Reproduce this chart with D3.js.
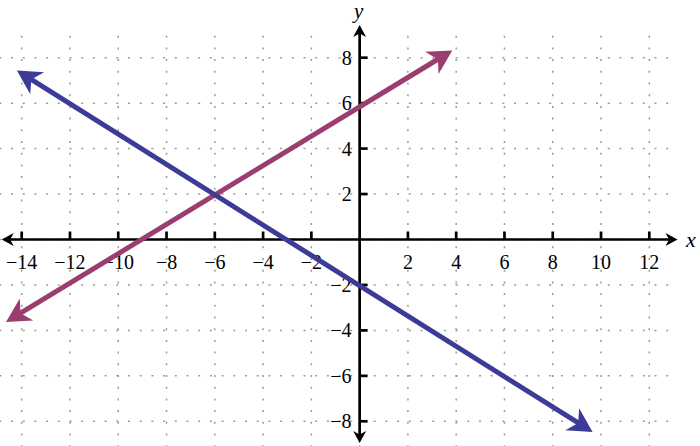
<html>
<head>
<script src="https://cdnjs.cloudflare.com/ajax/libs/d3/7.8.5/d3.min.js"></script>
<style>body{margin:0;background:#fff;}</style>
</head>
<body>
<div id="chartContainer"></div>
<script>
// tick labels on each axis
var xTicks = [-14, -12, -10, -8, -6, -4, -2, 2, 4, 6, 8, 10, 12];
var yTicks = [-8, -6, -4, -2, 2, 4, 6, 8];
// dotted grid, every 2 units
var gridX = [-14, -12, -10, -8, -6, -4, -2, 0, 2, 4, 6, 8, 10, 12];
var gridY = [-8, -6, -4, -2, 0, 2, 4, 6, 8];
// the two lines, arrow tip to arrow tip
var purpleLine = [[-14.65, -3.63], [3.84, 8.32]];
var blueLine = [[-14.2, 7.44], [9.65, -8.47]];

var width = 700, height = 446;
var svg = d3.select("#chartContainer").append("svg")
  .attr("width", width).attr("height", height);

var x = d3.scaleLinear().domain([-14, 12]).range([21.7, 649.3]);
var y = d3.scaleLinear().domain([-8, 8]).range([421.3, 57.7]);

var font = "Liberation Serif, DejaVu Serif, serif";

// grid
svg.append("g").selectAll("line").data(gridY).enter().append("line")
  .attr("x1", -0.7).attr("x2", 669)
  .attr("y1", function (d) { return y(d); })
  .attr("y2", function (d) { return y(d); })
  .style("stroke", "#999").style("stroke-width", 1.5)
  .style("stroke-dasharray", "2,9.7");

svg.append("g").selectAll("line").data(gridX).enter().append("line")
  .attr("x1", function (d) { return x(d); })
  .attr("x2", function (d) { return x(d); })
  .attr("y1", 35.7).attr("y2", height)
  .style("stroke", "#999").style("stroke-width", 1.5)
  .style("stroke-dasharray", "2,9.7");

// arrowhead drawn at tip, pointing away from "from"
function arrowHead(g, tip, from, len, half, notch, color) {
  var ang = Math.atan2(tip[1] - from[1], tip[0] - from[0]) * 180 / Math.PI;
  g.append("path")
    .attr("d", "M0,0L" + (-len) + "," + (-half) + "L" + (-notch) + ",0L" + (-len) + "," + half + "Z")
    .attr("transform", "translate(" + tip[0] + "," + tip[1] + ") rotate(" + ang + ")")
    .style("fill", color);
}

function shorten(a, b, d) {
  var dx = b[0] - a[0], dy = b[1] - a[1], l = Math.sqrt(dx * dx + dy * dy);
  return [a[0] + dx / l * d, a[1] + dy / l * d];
}

// axes
var axes = svg.append("g");
var x0 = y(0), y0 = x(0);
var xa = [x(-14.83), x(13.17)], ya = [y(9.44), y(-8.96)];
axes.append("line")
  .attr("x1", xa[0] + 7).attr("x2", xa[1] - 7).attr("y1", x0).attr("y2", x0)
  .style("stroke", "#000").style("stroke-width", 2.7);
axes.append("line")
  .attr("x1", y0).attr("x2", y0).attr("y1", ya[0] + 7).attr("y2", ya[1] - 7)
  .style("stroke", "#000").style("stroke-width", 2.7);
arrowHead(axes, [xa[1], x0], [xa[0], x0], 12, 6.5, 8.5, "#000");
arrowHead(axes, [xa[0], x0], [xa[1], x0], 12, 6.5, 8.5, "#000");
arrowHead(axes, [y0, ya[0]], [y0, ya[1]], 12, 6.5, 8.5, "#000");
arrowHead(axes, [y0, ya[1]], [y0, ya[0]], 12, 6.5, 8.5, "#000");

axes.selectAll(".xt").data(xTicks).enter().append("line")
  .attr("x1", function (d) { return x(d); })
  .attr("x2", function (d) { return x(d); })
  .attr("y1", x0).attr("y2", x0 - 8)
  .style("stroke", "#000").style("stroke-width", 2.7);
axes.selectAll(".yt").data(yTicks).enter().append("line")
  .attr("x1", y0).attr("x2", y0 + 8)
  .attr("y1", function (d) { return y(d); })
  .attr("y2", function (d) { return y(d); })
  .style("stroke", "#000").style("stroke-width", 2.7);

function lab(v) { return v < 0 ? "\u2212" + Math.abs(v) : "" + v; }

axes.selectAll(".xl").data(xTicks).enter().append("text")
  .attr("x", function (d) { return x(d); })
  .attr("y", x0 + 29)
  .attr("text-anchor", "middle")
  .attr("font-family", font).attr("font-size", 20)
  .text(lab);
axes.selectAll(".yl").data(yTicks).enter().append("text")
  .attr("x", y0 - 8)
  .attr("y", function (d) { return y(d) + 7; })
  .attr("text-anchor", "end")
  .attr("font-family", font).attr("font-size", 20)
  .text(lab);

axes.append("text").attr("x", 686).attr("y", 247)
  .attr("font-family", font).attr("font-size", 22).attr("font-style", "italic")
  .text("x");
axes.append("text").attr("x", 354).attr("y", 18)
  .attr("font-family", font).attr("font-size", 21).attr("font-style", "italic")
  .text("y");

// the two lines with arrowheads at both ends
function drawLine(pts, color) {
  var g = svg.append("g");
  var a = [x(pts[0][0]), y(pts[0][1])], b = [x(pts[1][0]), y(pts[1][1])];
  var s = shorten(a, b, 16), e = shorten(b, a, 16);
  g.append("line")
    .attr("x1", s[0]).attr("y1", s[1]).attr("x2", e[0]).attr("y2", e[1])
    .style("stroke", color).style("stroke-width", 5);
  arrowHead(g, a, b, 24, 13, 17, color);
  arrowHead(g, b, a, 24, 13, 17, color);
}
drawLine(purpleLine, "#9b3d6f");
drawLine(blueLine, "#3c3c98");
</script>
</body>
</html>
